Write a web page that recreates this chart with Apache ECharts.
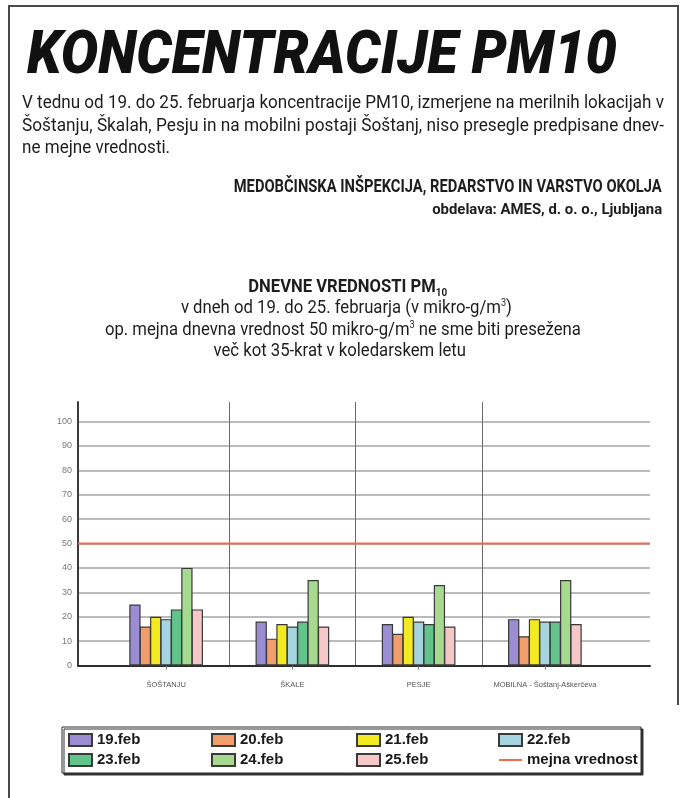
<!DOCTYPE html>
<html>
<head>
<meta charset="utf-8">
<script src="https://cdn.jsdelivr.net/npm/echarts@6/dist/echarts.min.js"></script>
<style>
html, body { margin: 0; padding: 0; background: #fff; }
#page { position: relative; width: 686px; height: 798px; overflow: hidden; font-family: Roboto, "Noto Sans", sans-serif; color: #1d1d1d; }
#chart { position: absolute; left: 0; top: 0; width: 686px; height: 798px; }
.t { position: absolute; white-space: nowrap; line-height: 1; }
.b { font-weight: bold; }
.line { position: absolute; background: #4a4a4a; }
sup { font-size: 55%; vertical-align: 0.7em; line-height: 0; }
sub { font-size: 60%; vertical-align: -0.35em; line-height: 0; }
</style>
</head>
<body>
<div id="page">
  <div id="chart"></div>
  <div class="line" style="left:8px; top:5px; width:670px; height:1.5px"></div>
  <div class="line" style="left:8px; top:5px; width:1.5px; height:793px"></div>
  <div class="line" style="left:677px; top:5px; width:1.5px; height:700px"></div>

  <div class="t" data-x="27" data-cy="53" data-w="590" data-align="left" style="font-size:60px; font-weight:900; font-style:italic; color:#111">KONCENTRACIJE PM10</div>

  <div class="t" id="p1" data-x="22" data-cy="101" data-w="642" data-align="left" style="font-size:19px">V tednu od 19. do 25. februarja koncentracije PM10, izmerjene na merilnih lokacijah v</div>
  <div class="t" data-x="22" data-cy="124" data-w="642" data-align="left" style="font-size:19px">Šoštanju, Škalah, Pesju in na mobilni postaji Šoštanj, niso presegle predpisane dnev-</div>
  <div class="t" data-x="22" data-cy="146" data-like="p1" data-align="left" style="font-size:19px">ne mejne vrednosti.</div>

  <div class="t b" data-x="662" data-cy="185" data-w="428" data-align="right" style="font-size:19px">MEDOBČINSKA INŠPEKCIJA, REDARSTVO IN VARSTVO OKOLJA</div>
  <div class="t b" data-x="662" data-cy="209" data-w="230" data-align="right" style="font-size:14px">obdelava: AMES, d. o. o., Ljubljana</div>

  <div class="t b" data-x="348" data-cy="285" data-w="199" data-align="center" style="font-size:19px">DNEVNE VREDNOSTI PM<sub>10</sub></div>
  <div class="t" data-x="346" data-cy="306" data-like="p2" data-align="center" style="font-size:19px">v dneh od 19. do 25. februarja (v mikro-g/m<sup>3</sup>)</div>
  <div class="t" id="p2" data-x="343" data-cy="328" data-w="476" data-align="center" style="font-size:19px">op. mejna dnevna vrednost 50 mikro-g/m<sup>3</sup> ne sme biti presežena</div>
  <div class="t" data-x="340" data-cy="349" data-like="p2" data-align="center" style="font-size:19px">več kot 35-krat v koledarskem letu</div>
</div>
<script>
// podatki
const stations = ['ŠOŠTANJU', 'ŠKALE', 'PESJE', 'MOBILNA - Šoštanj-Aškerčeva'];
const days = ['19.feb', '20.feb', '21.feb', '22.feb', '23.feb', '24.feb', '25.feb'];
const feb19 = [25, 18, 17, 19];
const feb20 = [16, 11, 13, 12];
const feb21 = [20, 17, 20, 19];
const feb22 = [19, 16, 18, 18];
const feb23 = [23, 18, 17, 18];
const feb24 = [40, 35, 33, 35];
const feb25 = [23, 16, 16, 17];
const limitName = 'mejna vrednost';
const limitValue = 50;
const yMin = 0;
const yMax = 108;
const yStep = 10;

const dayValues = [feb19, feb20, feb21, feb22, feb23, feb24, feb25];
const dayColors = ['#9b8dd2', '#f29d6c', '#f4ea22', '#a7d5df', '#62c48b', '#a6da8f', '#f5c7c7'];
const limitColor = '#ef6a4e';

// naslovi - stisnjena pisava (scaleX)
function fitTexts() {
  const scales = {};
  const els = Array.from(document.querySelectorAll('.t'));
  // najprej tisti s ciljno sirino
  els.sort((a, b) => (a.dataset.w ? 0 : 1) - (b.dataset.w ? 0 : 1));
  els.forEach(el => {
    el.style.transform = 'none';
    const w = el.getBoundingClientRect().width;
    let s = 1;
    if (el.dataset.w) s = parseFloat(el.dataset.w) / w;
    else if (el.dataset.like) s = scales[el.dataset.like] || 1;
    if (el.id) scales[el.id] = s;
    const x = parseFloat(el.dataset.x);
    const fs = parseFloat(el.style.fontSize);
    el.style.top = (parseFloat(el.dataset.cy) - fs / 2) + 'px';
    const a = el.dataset.align;
    if (a === 'left') { el.style.left = x + 'px'; el.style.transformOrigin = 'left center'; }
    else if (a === 'right') { el.style.left = (x - w) + 'px'; el.style.transformOrigin = 'right center'; }
    else { el.style.left = (x - w / 2) + 'px'; el.style.transformOrigin = 'center center'; }
    el.style.transform = 'scaleX(' + s + ')';
  });
}
fitTexts();
if (document.fonts) document.fonts.ready.then(fitTexts);

const myChart = echarts.init(document.getElementById('chart'));

const barSeries = days.map((d, i) => ({
  name: d,
  type: 'bar',
  xAxisIndex: 1,
  yAxisIndex: 1,
  data: dayValues[i],
  barWidth: 11.3,
  barGap: '-8%',
  itemStyle: { color: dayColors[i], borderColor: '#3a3a3a', borderWidth: 1.2 }
}));

const legendText = { fontFamily: 'Liberation Sans, Arial, sans-serif', fontWeight: 'bold', fontSize: 15, lineHeight: 15, color: '#1a1a1a' };
const legendCols = [68, 211, 356, 498];
const legends = legendCols.map((x, i) => ({
  orient: 'vertical',
  left: x,
  top: 732.5,
  padding: 0,
  itemWidth: 23,
  itemHeight: 12,
  itemGap: 5,
  icon: 'rect',
  textStyle: legendText,
  data: i < 3
    ? [days[i], days[i + 4]]
    : [days[i], { name: limitName, icon: 'path://M0,5 L23,5 L23,7 L0,7 Z' }]
}));

const option = {
  animation: false,
  grid: [
    { left: 78, right: 36, top: 402, bottom: 132.5 },
    { left: 103, right: 78, top: 402, bottom: 132.5 }
  ],
  xAxis: [
    {
      gridIndex: 0, type: 'value', min: 0, max: 1,
      axisLine: { show: true, onZero: false, lineStyle: { color: '#2e2e2e', width: 2 } },
      axisTick: { show: false }, axisLabel: { show: false }, splitLine: { show: false }
    },
    {
      gridIndex: 1, type: 'category', data: stations,
      axisLine: { show: false },
      axisTick: { show: true, interval: 0, alignWithLabel: true, length: 4, lineStyle: { color: '#777' } },
      axisLabel: { interval: 0, fontSize: 7.5, color: '#555', margin: 15, fontFamily: 'Liberation Sans, Arial, sans-serif' },
      splitLine: { show: true, interval: 0, showMinLine: false, showMaxLine: false, lineStyle: { color: '#6a6a6a', width: 1 } }
    }
  ],
  yAxis: [
    {
      gridIndex: 0, type: 'value', min: yMin, max: yMax, interval: yStep,
      axisLine: { show: true, lineStyle: { color: '#3a3a3a', width: 2 } },
      axisTick: { show: false },
      axisLabel: { fontSize: 9, color: '#777', margin: 6, showMaxLabel: false, fontFamily: 'Liberation Sans, Arial, sans-serif' },
      splitLine: { show: true, showMaxLine: false, lineStyle: { color: '#a4a4a4', width: 1.5 } }
    },
    {
      gridIndex: 1, type: 'value', min: yMin, max: yMax, interval: yStep,
      show: false, splitLine: { show: false }
    }
  ],
  legend: legends,
  graphic: [
    {
      type: 'rect', z: -1,
      shape: { x: 62, y: 727, width: 579, height: 46 },
      style: { fill: '#fff', stroke: '#2a2a2a', lineWidth: 1, shadowColor: '#333', shadowOffsetX: 2, shadowOffsetY: 2, shadowBlur: 0 }
    }
  ],
  series: barSeries.concat([
    {
      name: limitName,
      type: 'line',
      xAxisIndex: 0,
      yAxisIndex: 0,
      data: [[0, limitValue], [1, limitValue]],
      symbol: 'none',
      lineStyle: { color: limitColor, width: 2 },
      itemStyle: { color: limitColor }
    }
  ])
};

myChart.setOption(option);
</script>
</body>
</html>
